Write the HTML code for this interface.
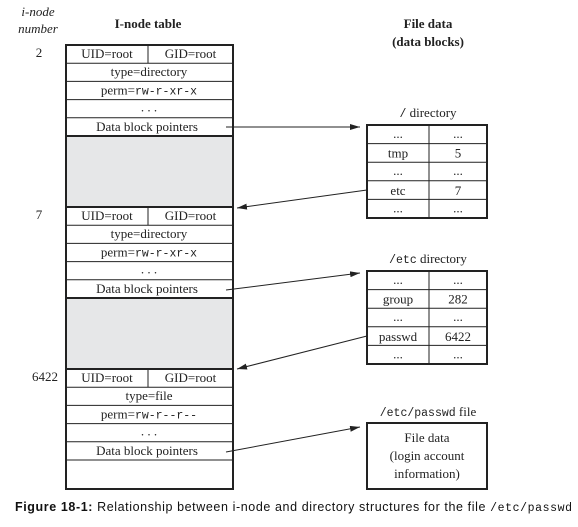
<!DOCTYPE html>
<html><head><meta charset="utf-8"><style>
html,body{margin:0;padding:0;background:#fff;}
svg{display:block;}
.s{font-family:"Liberation Serif",serif;font-size:13px;fill:#222;}
.m{font-family:"Liberation Mono",monospace;font-size:11.5px;fill:#222;}
.b{font-weight:bold;}
.cap{font-family:"Liberation Sans",sans-serif;font-size:12.5px;fill:#111;}
</style></head><body>
<svg id="fig" width="578" height="527" viewBox="0 0 578 527" xmlns="http://www.w3.org/2000/svg">
<defs><marker id="ah" markerWidth="10" markerHeight="6" refX="10" refY="3" orient="auto" markerUnits="userSpaceOnUse"><path d="M0,0 L10,3 L0,6 z" fill="#222"/></marker></defs>
<text class="s" x="38" y="16" text-anchor="middle" font-style="italic" font-size="11">i-node</text>
<text class="s" x="38" y="33" text-anchor="middle" font-style="italic" font-size="11">number</text>
<text class="s b" x="148" y="28" text-anchor="middle">I-node table</text>
<text class="s b" x="428" y="28" text-anchor="middle">File data</text>
<text class="s b" x="428" y="46" text-anchor="middle">(data blocks)</text>
<g id="inodes"></g>
<g id="dirs"></g>
<g>
<text x="428" y="416" text-anchor="middle"><tspan class="m">/etc/passwd</tspan><tspan class="s"> file</tspan></text>
<rect x="367" y="423" width="120" height="66" fill="#fff" stroke="#222" stroke-width="2"/>
<text class="s" x="427" y="442" text-anchor="middle">File data</text>
<text class="s" x="427" y="460" text-anchor="middle">(login account</text>
<text class="s" x="427" y="478" text-anchor="middle">information)</text>
</g>
<g stroke="#222" stroke-width="1" fill="none">
<line x1="226" y1="127" x2="360" y2="127" marker-end="url(#ah)"/>
<line x1="367" y1="190" x2="237" y2="208" marker-end="url(#ah)"/>
<line x1="226" y1="290" x2="360" y2="273" marker-end="url(#ah)"/>
<line x1="367" y1="336" x2="237" y2="369" marker-end="url(#ah)"/>
<line x1="226" y1="452" x2="360" y2="427" marker-end="url(#ah)"/>
</g>
<text class="cap" x="15" y="511" textLength="557" lengthAdjust="spacing"><tspan class="b">Figure 18-1:</tspan> Relationship between i-node and directory structures for the file <tspan font-family="Liberation Mono" font-size="11.5">/etc/passwd</tspan></text>
</svg>
<script>
const inodeNums = ["2", "7", "6422"];
const inodeTypes = ["type=directory", "type=directory", "type=file"];
const inodePerms = ["rw-r-xr-x", "rw-r-xr-x", "rw-r--r--"];
const inodeTops = [45, 207, 369];
const rootRows = [["...", "..."], ["tmp", "5"], ["...", "..."], ["etc", "7"], ["...", "..."]];
const etcRows = [["...", "..."], ["group", "282"], ["...", "..."], ["passwd", "6422"], ["...", "..."]];
const NS = "http://www.w3.org/2000/svg";
function mk(tag, attrs, parent, txt) {
  const e = document.createElementNS(NS, tag);
  for (const k in attrs) e.setAttribute(k, attrs[k]);
  if (txt !== undefined) e.textContent = txt;
  parent.appendChild(e);
  return e;
}
const g = document.getElementById("inodes");
const X0 = 66, X1 = 233, XM = 148, RH = 18.2;
[136.5, 298.5].forEach(function (y) {
  const r = mk("rect", {x: X0, y: y, width: X1 - X0, height: 70.5, fill: "#e6e7e8"}, g);
  
  
});
inodeTops.forEach(function (top, i) {
  const grp = mk("g", {}, g);
  
  
  const n = mk("text", {class: "s", x: inodeNums[i].length > 1 ? 45 : 39, y: top + 12, "text-anchor": "middle"}, grp, inodeNums[i]);
  
  
  for (let r = 1; r <= 5; r++) mk("line", {x1: X0, x2: X1, y1: top + r * RH, y2: top + r * RH, stroke: "#222", "stroke-width": r === 5 && i < 2 ? 2 : 1}, grp);
  mk("line", {x1: XM, x2: XM, y1: top, y2: top + RH, stroke: "#222"}, grp);
  const cy = function (r) { return top + r * RH + 13; };
  mk("text", {class: "s", x: (X0 + XM) / 2, y: cy(0), "text-anchor": "middle"}, grp, "UID=root");
  mk("text", {class: "s", x: (XM + X1) / 2, y: cy(0), "text-anchor": "middle"}, grp, "GID=root");
  mk("text", {class: "s", x: 149, y: cy(1), "text-anchor": "middle"}, grp, inodeTypes[i]);
  const p = mk("text", {x: 149, y: cy(2), "text-anchor": "middle"}, grp);
  mk("tspan", {class: "s"}, p, "perm=");
  mk("tspan", {class: "m"}, p, inodePerms[i]);
  mk("text", {class: "s", x: 149, y: cy(3) - 1, "text-anchor": "middle"}, grp, ". . .");
  const d = mk("text", {class: "s", x: 147, y: cy(4), "text-anchor": "middle"}, grp, "Data block pointers");
  
  
});
mk("line", {x1: X0, x2: X1, y1: 207, y2: 207, stroke: "#222", "stroke-width": 2}, g);
mk("line", {x1: X0, x2: X1, y1: 369, y2: 369, stroke: "#222", "stroke-width": 2}, g);
const frame = mk("rect", {x: X0, y: 45, width: X1 - X0, height: 444, fill: "none", stroke: "#222", "stroke-width": 2}, g);



const dg = document.getElementById("dirs");
function dirTable(rows, top, label, name, mono) {
  const grp = mk("g", {}, dg);
  
  
  const t = mk("text", {x: 428, y: top - 8, "text-anchor": "middle"}, grp);
  mk("tspan", {class: "m"}, t, mono);
  mk("tspan", {class: "s"}, t, label);
  const h = 18.6;
  rows.forEach(function (row, r) {
    if (r > 0) mk("line", {x1: 367, x2: 487, y1: top + r * h, y2: top + r * h, stroke: "#222"}, grp);
    const dots = row[0] === "...";
    mk("text", {class: "s", x: 398, y: top + r * h + (dots ? 13 : 14), "text-anchor": "middle", "font-size": dots ? 11 : 13}, grp, row[0]);
    mk("text", {class: "s", x: 458, y: top + r * h + (dots ? 13 : 14), "text-anchor": "middle", "font-size": dots ? 11 : 13}, grp, row[1]);
  });
  mk("line", {x1: 429, x2: 429, y1: top, y2: top + rows.length * h, stroke: "#222"}, grp);
  mk("rect", {x: 367, y: top, width: 120, height: rows.length * h, fill: "none", stroke: "#222", "stroke-width": 2}, grp);
}
dirTable(rootRows, 125, " directory", "root-directory-table", "/");
dirTable(etcRows, 271, " directory", "etc-directory-table", "/etc");
</script>
</body></html>
